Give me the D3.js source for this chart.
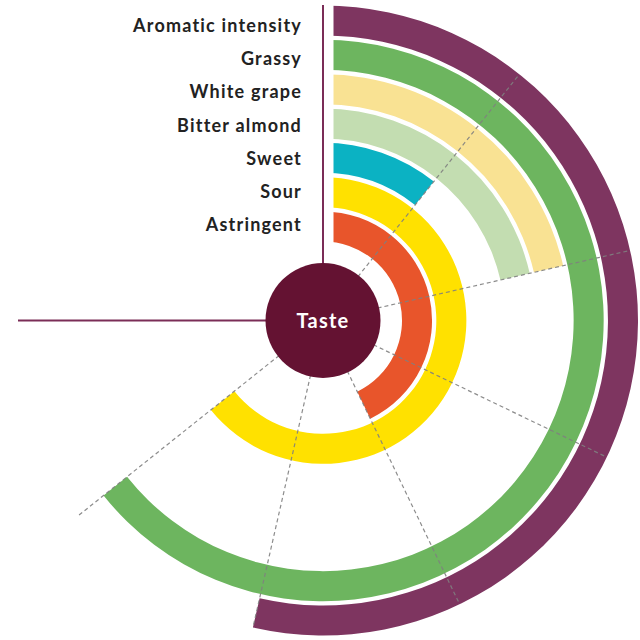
<!DOCTYPE html>
<html><head><meta charset="utf-8">
<script src="https://cdn.jsdelivr.net/npm/d3@7"></script>
<style>html,body{margin:0;padding:0;background:#fff;}svg{display:block;}</style>
</head><body>
<svg id="chart" width="640" height="640"></svg>
<script>
const categories = ["Aromatic intensity","Grassy","White grape","Bitter almond","Sweet","Sour","Astringent"];
const values = [5, 6, 2, 2, 1, 6, 4];
const colors = ["#7e3560","#6db55f","#f9e293","#c3ddb1","#0bb2c3","#ffe100","#e8552b"];
const gridTicks = [1, 2, 3, 4, 5, 6];
const centerLabel = "Taste";

const W = 640, H = 640, cx = 323, cy = 320.5;
const svg = d3.select("#chart");
const g = svg.append("g").attr("transform", `translate(${cx},${cy})`);

const angle = d3.scaleLinear().domain([0, 7]).range([0, 1.5 * Math.PI]);
const radius = d3.scaleBand().domain(categories.slice().reverse()).range([79, 315]).paddingInner(0.125);

// clip: exclude the narrow strip right of the vertical axis line in the upper half
const clip = svg.append("defs").append("clipPath").attr("id", "barclip");
clip.append("rect").attr("x", -cx).attr("y", -cy).attr("width", cx).attr("height", H);
clip.append("rect").attr("x", 10.5).attr("y", -cy).attr("width", W).attr("height", H);
clip.append("rect").attr("x", -cx).attr("y", 0).attr("width", W).attr("height", H);

const arc = d3.arc();
g.append("g").attr("clip-path", "url(#barclip)")
  .selectAll("path").data(categories).join("path")
  .attr("d", (d, i) => arc({innerRadius: radius(d), outerRadius: radius(d) + radius.bandwidth(), startAngle: 0, endAngle: angle(values[i])}))
  .attr("fill", (d, i) => colors[i]);

// dashed gridlines
g.append("g").selectAll("line").data(gridTicks).join("line")
  .attr("x1", 0).attr("y1", 0)
  .attr("x2", d => 315 * Math.sin(angle(d)))
  .attr("y2", d => -315 * Math.cos(angle(d)))
  .attr("stroke", "#7f7f7f").attr("stroke-opacity", 0.9)
  .attr("stroke-width", 1.2).attr("stroke-dasharray", "4,3");

// axis lines
g.append("line").attr("x1", 0).attr("y1", -315.5).attr("x2", 0).attr("y2", 0)
  .attr("stroke", "#7b2d57").attr("stroke-width", 2);
g.append("line").attr("x1", 18 - cx).attr("y1", 0).attr("x2", 0).attr("y2", 0)
  .attr("stroke", "#7b2d57").attr("stroke-width", 2);

// center circle
g.append("circle").attr("r", 57.5).attr("fill", "#641232");
g.append("text").text(centerLabel).attr("x", 0).attr("y", 7)
  .attr("text-anchor", "middle").attr("fill", "#fff")
  .attr("font-family", "Lato, 'Open Sans', sans-serif").attr("font-weight", 700).attr("font-size", 20)
  .attr("letter-spacing", 1.2);

// labels
svg.append("g").selectAll("text").data(categories).join("text")
  .text(d => d)
  .attr("x", 302).attr("y", (d, i) => 32 + i * 33.2)
  .attr("text-anchor", "end").attr("fill", "#222")
  .attr("font-family", "Lato, 'Open Sans', sans-serif").attr("font-weight", 700).attr("font-size", 18)
  .attr("letter-spacing", 1.2);
</script>
</body></html>
